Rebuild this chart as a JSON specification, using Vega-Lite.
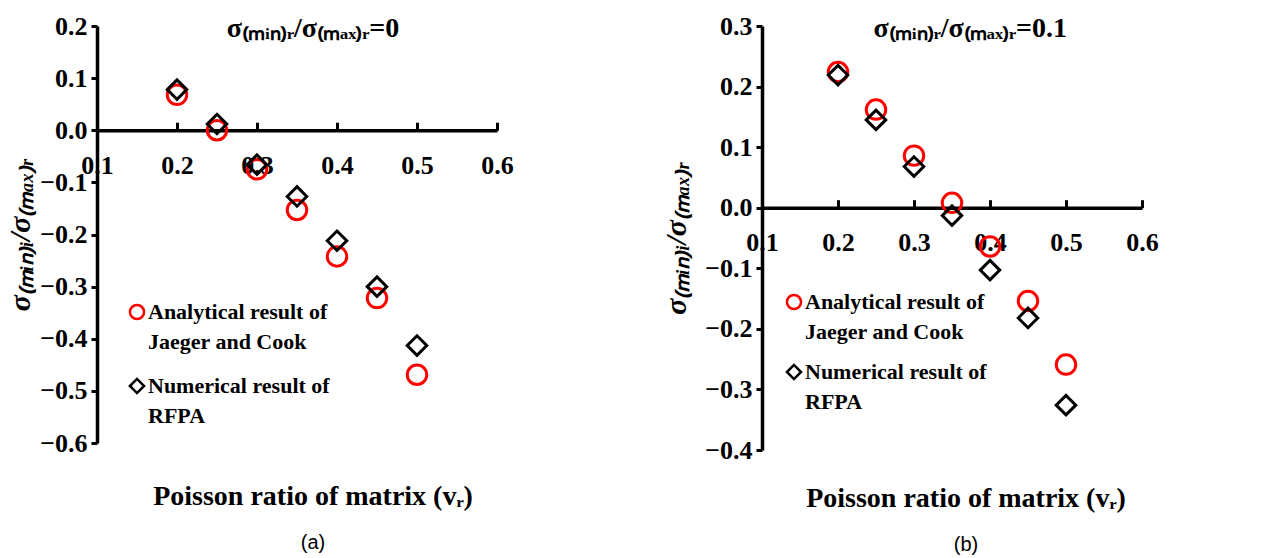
{
  "$schema": "https://vega.github.io/schema/vega-lite/v6.json",
  "background": "white",
  "padding": {"left": 5, "top": 13, "right": 5, "bottom": 5},
  "config": {
    "view": {"stroke": null},
    "font": "Liberation Serif",
    "axis": {
      "labelFont": "Liberation Serif", "labelFontWeight": "bold", "labelFontSize": 26, "labelColor": "black",
      "domainColor": "black", "domainWidth": 3.5, "tickColor": "black", "tickWidth": 3, "grid": false,
      "titleFont": "Liberation Serif", "titleFontWeight": "bold", "titleColor": "black", "titleFontSize": 30
    },
    "style": {"guide-label": {"lineHeight": 30}}
  },
  "datasets": {
    "a": [
      {"nu": 0.2, "series": "Analytical result of|Jaeger and Cook", "ratio": 0.068},
      {"nu": 0.25, "series": "Analytical result of|Jaeger and Cook", "ratio": 0.0},
      {"nu": 0.3, "series": "Analytical result of|Jaeger and Cook", "ratio": -0.075},
      {"nu": 0.35, "series": "Analytical result of|Jaeger and Cook", "ratio": -0.153},
      {"nu": 0.4, "series": "Analytical result of|Jaeger and Cook", "ratio": -0.242},
      {"nu": 0.45, "series": "Analytical result of|Jaeger and Cook", "ratio": -0.322},
      {"nu": 0.5, "series": "Analytical result of|Jaeger and Cook", "ratio": -0.469},
      {"nu": 0.2, "series": "Numerical result of|RFPA", "ratio": 0.078},
      {"nu": 0.25, "series": "Numerical result of|RFPA", "ratio": 0.012},
      {"nu": 0.3, "series": "Numerical result of|RFPA", "ratio": -0.066},
      {"nu": 0.35, "series": "Numerical result of|RFPA", "ratio": -0.127},
      {"nu": 0.4, "series": "Numerical result of|RFPA", "ratio": -0.212},
      {"nu": 0.45, "series": "Numerical result of|RFPA", "ratio": -0.300},
      {"nu": 0.5, "series": "Numerical result of|RFPA", "ratio": -0.413}
    ],
    "b": [
      {"nu": 0.2, "series": "Analytical result of|Jaeger and Cook", "ratio": 0.224},
      {"nu": 0.25, "series": "Analytical result of|Jaeger and Cook", "ratio": 0.162},
      {"nu": 0.3, "series": "Analytical result of|Jaeger and Cook", "ratio": 0.086},
      {"nu": 0.35, "series": "Analytical result of|Jaeger and Cook", "ratio": 0.008},
      {"nu": 0.4, "series": "Analytical result of|Jaeger and Cook", "ratio": -0.064},
      {"nu": 0.45, "series": "Analytical result of|Jaeger and Cook", "ratio": -0.154},
      {"nu": 0.5, "series": "Analytical result of|Jaeger and Cook", "ratio": -0.259},
      {"nu": 0.2, "series": "Numerical result of|RFPA", "ratio": 0.219},
      {"nu": 0.25, "series": "Numerical result of|RFPA", "ratio": 0.145},
      {"nu": 0.3, "series": "Numerical result of|RFPA", "ratio": 0.068},
      {"nu": 0.35, "series": "Numerical result of|RFPA", "ratio": -0.013},
      {"nu": 0.4, "series": "Numerical result of|RFPA", "ratio": -0.103},
      {"nu": 0.45, "series": "Numerical result of|RFPA", "ratio": -0.182},
      {"nu": 0.5, "series": "Numerical result of|RFPA", "ratio": -0.326}
    ]
  },
  "spacing": 147,
  "resolve": {"scale": {"color": "independent", "shape": "independent", "x": "independent", "y": "independent"}},
  "hconcat": [
    {
      "width": 400, "height": 417,
      "title": {"text": "Poisson ratio of matrix (vᵣ)", "subtitle": "(a)", "orient": "bottom", "anchor": "middle", "offset": 27, "dx": 16,
        "font": "Liberation Serif", "fontSize": 28, "fontWeight": "bold", "color": "black",
        "subtitleFont": "Liberation Sans", "subtitleFontSize": 20, "subtitleColor": "black", "subtitlePadding": 22},
      "layer": [
        {
          "data": {"name": "a"},
          "mark": {"type": "point", "filled": false, "strokeWidth": 3, "size": 380, "opacity": 1},
          "encoding": {
            "x": {"field": "nu", "type": "quantitative", "scale": {"domain": [0.1, 0.6], "nice": false, "zero": false},
              "axis": {"values": [0.1, 0.2, 0.3, 0.4, 0.5, 0.6], "format": ".1f", "offset": -312.75, "tickSize": -8,
                "labelFlush": false, "labelOverlap": false, "labelPadding": 30, "title": null}},
            "y": {"field": "ratio", "type": "quantitative", "scale": {"domain": [-0.6, 0.2], "nice": false, "zero": false},
              "axis": {"values": [-0.6, -0.5, -0.4, -0.3, -0.2, -0.1, 0, 0.1, 0.2], "format": ".1f", "tickSize": 6, "labelPadding": 4,
                "title": "σ₍ₘᵢₙ₎ᵢ/σ₍ₘₐₓ₎ᵣ", "titleFontStyle": "italic", "titlePadding": 4}},
            "color": {"field": "series", "type": "nominal",
              "scale": {"domain": ["Analytical result of|Jaeger and Cook", "Numerical result of|RFPA"], "range": ["#ff0000", "#000000"]},
              "legend": {"orient": "none", "legendX": 29, "legendY": 275, "title": null, "labelFont": "Liberation Serif", "labelFontWeight": "bold",
                "labelFontSize": 22, "labelColor": "black", "symbolSize": 200, "symbolStrokeWidth": 2.5, "rowPadding": 20,
                "labelExpr": "split(datum.label, '|')", "labelOffset": 0, "labelLimit": 400}},
            "shape": {"field": "series", "type": "nominal",
              "scale": {"domain": ["Analytical result of|Jaeger and Cook", "Numerical result of|RFPA"], "range": ["circle", "diamond"]},
              "legend": {"orient": "none", "legendX": 29, "legendY": 275, "title": null, "labelFont": "Liberation Serif", "labelFontWeight": "bold",
                "labelFontSize": 22, "labelColor": "black", "symbolSize": 200, "symbolStrokeWidth": 2.5, "rowPadding": 20,
                "labelExpr": "split(datum.label, '|')", "labelOffset": 0, "labelLimit": 400}}
          }
        },
        {
          "data": {"values": [{}]},
          "mark": {"type": "text", "font": "Liberation Serif", "fontWeight": "bold", "fontSize": 28, "color": "black", "align": "center", "baseline": "middle"},
          "encoding": {"x": {"datum": 0.37}, "y": {"datum": 0.195}, "text": {"value": "σ₍ₘᵢₙ₎ᵣ/σ₍ₘₐₓ₎ᵣ=0"}}
        }
      ]
    },
    {
      "width": 380, "height": 424,
      "title": {"text": "Poisson ratio of matrix (vᵣ)", "subtitle": "(b)", "orient": "bottom", "anchor": "middle", "offset": 22, "dx": 14,
        "font": "Liberation Serif", "fontSize": 28, "fontWeight": "bold", "color": "black",
        "subtitleFont": "Liberation Sans", "subtitleFontSize": 20, "subtitleColor": "black", "subtitlePadding": 22},
      "layer": [
        {
          "data": {"name": "b"},
          "mark": {"type": "point", "filled": false, "strokeWidth": 3, "size": 380, "opacity": 1},
          "encoding": {
            "x": {"field": "nu", "type": "quantitative", "scale": {"domain": [0.1, 0.6], "nice": false, "zero": false},
              "axis": {"values": [0.1, 0.2, 0.3, 0.4, 0.5, 0.6], "format": ".1f", "offset": -242.3, "tickSize": -8,
                "labelFlush": false, "labelOverlap": false, "labelPadding": 30, "title": null}},
            "y": {"field": "ratio", "type": "quantitative", "scale": {"domain": [-0.4, 0.3], "nice": false, "zero": false},
              "axis": {"values": [-0.4, -0.3, -0.2, -0.1, 0, 0.1, 0.2, 0.3], "format": ".1f", "tickSize": 6, "labelPadding": 4,
                "title": "σ₍ₘᵢₙ₎ᵢ/σ₍ₘₐₓ₎ᵣ", "titleFontStyle": "italic", "titlePadding": 13}},
            "color": {"field": "series", "type": "nominal",
              "scale": {"domain": ["Analytical result of|Jaeger and Cook", "Numerical result of|RFPA"], "range": ["#ff0000", "#000000"]},
              "legend": {"orient": "none", "legendX": 21, "legendY": 265, "title": null, "labelFont": "Liberation Serif", "labelFontWeight": "bold",
                "labelFontSize": 22, "labelColor": "black", "symbolSize": 200, "symbolStrokeWidth": 2.5, "rowPadding": 16,
                "labelExpr": "split(datum.label, '|')", "labelOffset": 0, "labelLimit": 400}},
            "shape": {"field": "series", "type": "nominal",
              "scale": {"domain": ["Analytical result of|Jaeger and Cook", "Numerical result of|RFPA"], "range": ["circle", "diamond"]},
              "legend": {"orient": "none", "legendX": 21, "legendY": 265, "title": null, "labelFont": "Liberation Serif", "labelFontWeight": "bold",
                "labelFontSize": 22, "labelColor": "black", "symbolSize": 200, "symbolStrokeWidth": 2.5, "rowPadding": 16,
                "labelExpr": "split(datum.label, '|')", "labelOffset": 0, "labelLimit": 400}}
          }
        },
        {
          "data": {"values": [{}]},
          "mark": {"type": "text", "font": "Liberation Serif", "fontWeight": "bold", "fontSize": 28, "color": "black", "align": "center", "baseline": "middle"},
          "encoding": {"x": {"datum": 0.374}, "y": {"datum": 0.295}, "text": {"value": "σ₍ₘᵢₙ₎ᵣ/σ₍ₘₐₓ₎ᵣ=0.1"}}
        }
      ]
    }
  ]
}
